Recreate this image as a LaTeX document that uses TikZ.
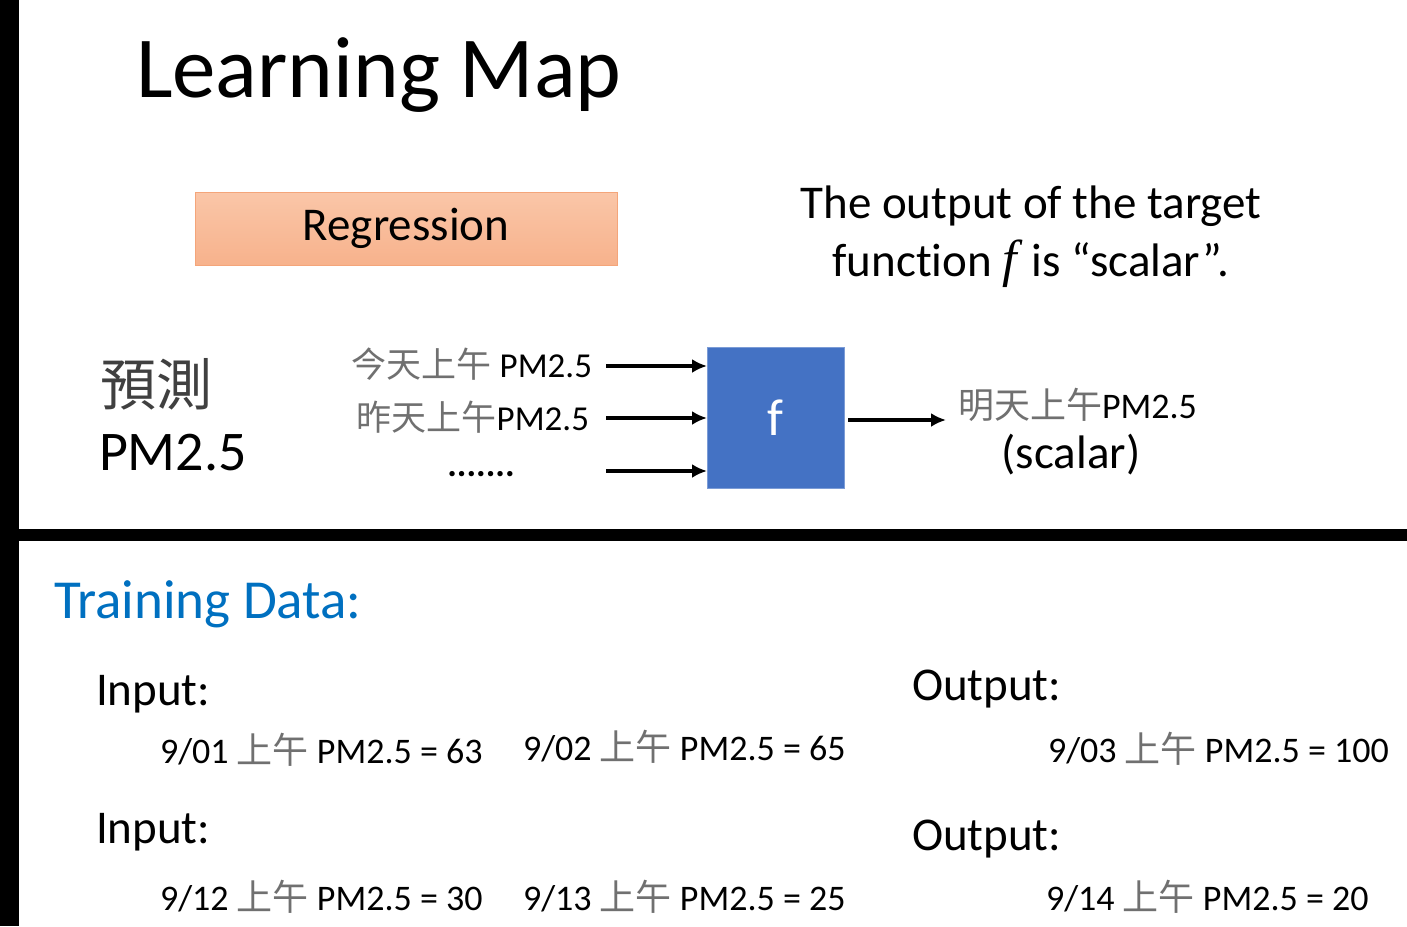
\documentclass[tikz,border=0pt]{standalone}
\usepackage{fontspec}
\setmainfont{Carlito}[Ligatures=NoCommon]
\newfontfamily\cjk{Noto Sans CJK TC}
\newfontfamily\serifit{Liberation Serif}[UprightFont=*-Italic]
\usepackage{xcolor}
\usetikzlibrary{arrows.meta,positioning,calc}

\definecolor{regfill}{HTML}{F7B28C}
\definecolor{regtop}{HTML}{FAC6A8}
\definecolor{regdraw}{HTML}{F4A57A}
\definecolor{fblue}{HTML}{4472C4}
\definecolor{tblue}{HTML}{0070C0}
\definecolor{cjkgray}{HTML}{707070}

\newcommand{\pxsize}[1]{\fontsize{#1}{#1}\selectfont}
\newcommand{\zh}[1]{{\cjk\color{cjkgray}#1}}

\begin{document}
\begin{tikzpicture}[
    x=1pt, y=-1pt,
    every node/.style={inner sep=0pt, outer sep=0pt},
    txt/.style={anchor=base west},
    regbox/.style={
      rectangle, draw=regdraw, line width=1pt, top color=regtop, bottom color=regfill,
      minimum width=422pt, minimum height=73pt, anchor=north west
    },
    fbox/.style={
      rectangle, draw=fblue!70!white, line width=1pt, fill=fblue,
      minimum width=137pt, minimum height=141pt, anchor=north west
    },
    arr/.style={-{Latex[length=15pt,width=14pt]}, line width=3.5pt, black}
  ]
    \useasboundingbox (0,0) rectangle (1407,926);
    % frame bars
    \fill[black] (0,0) rectangle (19,926);
    \fill[black] (19,529) rectangle (1407,541);

    % upper half
    \node[txt] (title) at (136,97) {\pxsize{87}Learning Map};
    \node[regbox] (reg) at (195,192) {\pxsize{47}\raisebox{-3pt}{Regression}};
    \node[anchor=base] (note1) at (1031,218) {\pxsize{47}The output of the target};
    \node[anchor=base] (note2) at (1031,276)
      {\pxsize{47}function {\serifit\pxsize{52}f}\hspace{4pt} is ``scalar''.};

    \node[txt] (predict) at (100,405) {\pxsize{56}{\cjk\color{black!75}預測}};
    \node[txt] (pm) at (99,470) {\pxsize{56}PM2.5};

    \node[anchor=base east] (today) at (592,377) {\pxsize{35}\zh{今天上午} PM2.5};
    \node[anchor=base east] (yday) at (589,430) {\pxsize{35}\zh{昨天上午}PM2.5};
    \node[anchor=base] (dots) at (481,476) {\pxsize{36}\textbf{.......}};

    \node[fbox] (f) at (707,347) {};
    \node[text=white] at (f.center) {\pxsize{52}f};

    \coordinate (in1) at (606,366);
    \coordinate (in2) at (606,418);
    \coordinate (in3) at (606,471);
    \coordinate (out) at (946,420);

    \draw[arr] (in1) -- (in1 -| f.west);
    \draw[arr] (in2) -- (in2 -| f.west);
    \draw[arr] (in3) -- (in3 -| f.west);
    \draw[arr, shorten <=4pt] (out -| f.east) -- (out);

    \node[txt] (tomorrow) at (958,418) {\pxsize{36}\zh{明天上午}PM2.5};
    \node[anchor=base] (scalar) at (1071,468) {\pxsize{47}(scalar)};

    % lower half
    \node[txt, text=tblue] (train) at (54,618) {\pxsize{55}Training Data:};

    \node[txt] (in1lbl) at (96,705) {\pxsize{47}Input:};
    \node[txt] (out1lbl) at (912,700) {\pxsize{47}Output:};
    \node[txt] (in2lbl) at (96,843) {\pxsize{47}Input:};
    \node[txt] (out2lbl) at (912,850) {\pxsize{47}Output:};

    \node[txt] (d01) at (160,763) {\pxsize{36}9/01 \zh{上午} PM2.5 = 63};
    \node[txt] (d02) at (523,760) {\pxsize{36}9/02 \zh{上午} PM2.5 = 65};
    \node[txt] (d03) at (1048,762) {\pxsize{36}9/03 \zh{上午} PM2.5 = 100};
    \node[txt] (d12) at (160,910) {\pxsize{36}9/12 \zh{上午} PM2.5 = 30};
    \node[txt] (d13) at (523,910) {\pxsize{36}9/13 \zh{上午} PM2.5 = 25};
    \node[txt] (d14) at (1046,910) {\pxsize{36}9/14 \zh{上午} PM2.5 = 20};
\end{tikzpicture}
\end{document}
